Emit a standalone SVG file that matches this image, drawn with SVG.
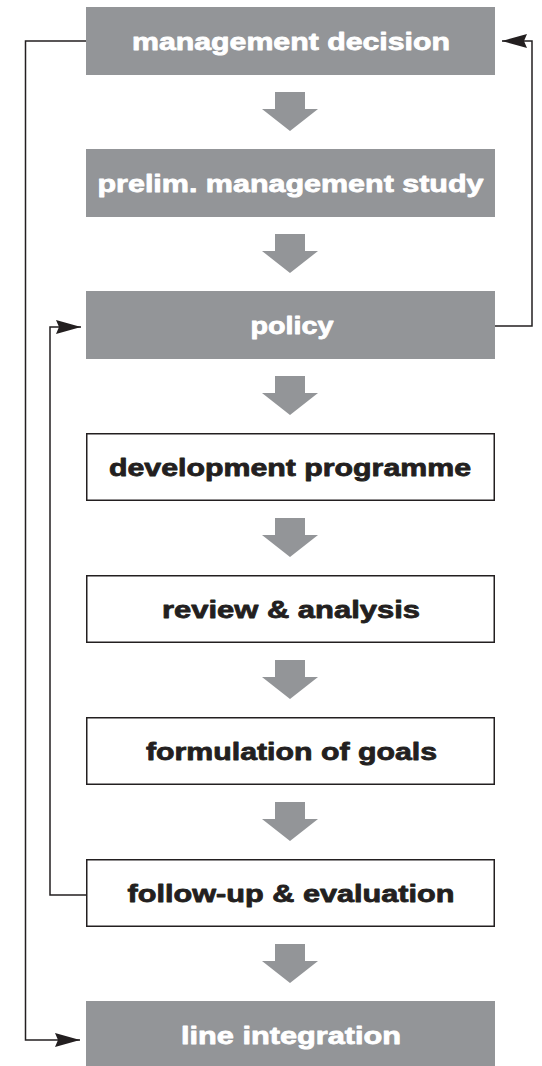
<svg xmlns="http://www.w3.org/2000/svg" xmlns:xlink="http://www.w3.org/1999/xlink" width="542" height="1066" viewBox="0 0 542 1066">
  <style>
    .box-dark { fill: #939598; }
    .box-light { fill: #ffffff; stroke: #231f20; stroke-width: 1.5; }
    .label { font-family: "Liberation Sans", Arial, sans-serif; font-weight: bold; font-size: 24px; text-anchor: middle; stroke-width: 0.8; stroke-linejoin: round; }
    .label-dark { fill: #ffffff; stroke: #ffffff; }
    .label-light { fill: #231f20; stroke: #231f20; }
    .step { fill: #939598; }
    .link { fill: none; stroke: #231f20; stroke-width: 1.5; }
  </style>
  <defs>
    <!-- block arrow between consecutive stages; origin at the bottom edge of the upper box -->
    <polygon id="step-arrow" class="step" points="275,17 305,17 305,34 318,34 290,56 262,34 275,34"/>
    <marker id="head" viewBox="0 0 25 14" refX="25" refY="7" markerWidth="25" markerHeight="14" markerUnits="userSpaceOnUse" orient="auto">
      <path d="M0,0 L25,7 L0,14 L3,7 Z" fill="#231f20"/>
    </marker>
  </defs>

  <rect width="542" height="1066" fill="#ffffff"/>

  <!-- stage arrows -->
  <g id="step-arrows">
    <use xlink:href="#step-arrow" y="75"/>
    <use xlink:href="#step-arrow" y="217"/>
    <use xlink:href="#step-arrow" y="359"/>
    <use xlink:href="#step-arrow" y="501"/>
    <use xlink:href="#step-arrow" y="643"/>
    <use xlink:href="#step-arrow" y="785"/>
    <use xlink:href="#step-arrow" y="927"/>
  </g>

  <!-- feedback connectors -->
  <g id="connectors">
    <path class="link" d="M86,41 H25.5 V1040 H80" marker-end="url(#head)"/>
    <path class="link" d="M87,895 H50 V327 H81" marker-end="url(#head)"/>
    <path class="link" d="M495,326 H532 V41 H502" marker-end="url(#head)"/>
  </g>

  <g id="management-decision">
    <rect class="box-dark" x="86" y="7" width="409" height="68"/>
    <text class="label label-dark" x="291" y="50" textLength="318" lengthAdjust="spacingAndGlyphs">management decision</text>
  </g>

  <g id="prelim-study">
    <rect class="box-dark" x="86" y="149" width="409" height="68"/>
    <text class="label label-dark" x="290.5" y="192" textLength="386" lengthAdjust="spacingAndGlyphs">prelim. management study</text>
  </g>

  <g id="policy">
    <rect class="box-dark" x="86" y="291" width="409" height="68"/>
    <text class="label label-dark" x="292" y="334" textLength="83" lengthAdjust="spacingAndGlyphs">policy</text>
  </g>

  <g id="development-programme">
    <rect class="box-light" x="86.75" y="433.75" width="407.5" height="66.5"/>
    <text class="label label-light" x="290" y="476" textLength="362" lengthAdjust="spacingAndGlyphs">development programme</text>
  </g>

  <g id="review-analysis">
    <rect class="box-light" x="86.75" y="575.75" width="407.5" height="66.5"/>
    <text class="label label-light" x="291" y="618" textLength="258" lengthAdjust="spacingAndGlyphs">review &amp; analysis</text>
  </g>

  <g id="formulation-goals">
    <rect class="box-light" x="86.75" y="717.75" width="407.5" height="66.5"/>
    <text class="label label-light" x="291.5" y="760" textLength="291" lengthAdjust="spacingAndGlyphs">formulation of goals</text>
  </g>

  <g id="follow-up-evaluation">
    <rect class="box-light" x="86.75" y="859.75" width="407.5" height="66.5"/>
    <text class="label label-light" x="291" y="902" textLength="327" lengthAdjust="spacingAndGlyphs">follow-up &amp; evaluation</text>
  </g>

  <g id="line-integration">
    <rect class="box-dark" x="86" y="1001" width="409" height="68"/>
    <text class="label label-dark" x="291" y="1044" textLength="220" lengthAdjust="spacingAndGlyphs">line integration</text>
  </g>
</svg>
